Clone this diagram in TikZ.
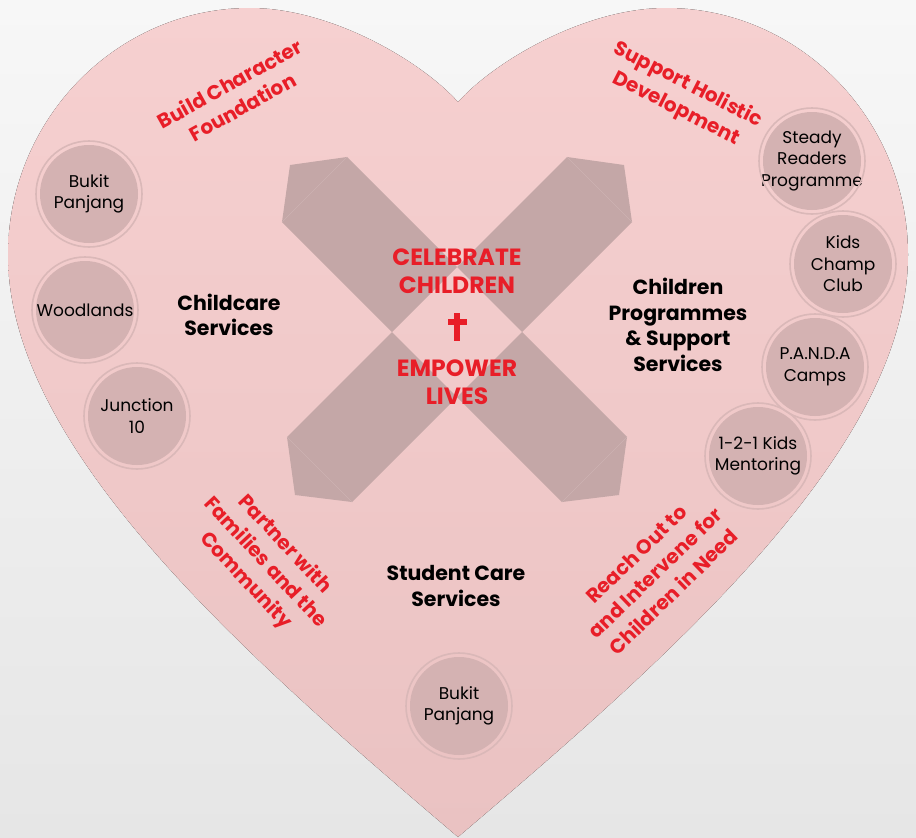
\documentclass[tikz,border=0pt]{standalone}
\usepackage{fontspec}
\setmainfont{Poppins}

\definecolor{bgtop}{HTML}{F7F7F7}
\definecolor{bgbot}{HTML}{E6E6E6}
\definecolor{hearttop}{HTML}{F6D0D0}
\definecolor{heartbot}{HTML}{EAC2C2}
\definecolor{armcol}{HTML}{C4A7A7}
\definecolor{foldcol}{HTML}{CDB2B2}
\definecolor{sitefill}{HTML}{D4B2B2}
\definecolor{ringcol}{HTML}{DAB8B8}
\definecolor{heartred}{HTML}{E81E28}

\begin{document}
\begin{tikzpicture}[x=1pt,y=-1pt]

\tikzset{site/.style = {shape=circle,fill=sitefill,minimum size=98pt,inner sep=0pt}}
\tikzset{sitetext/.style = {align=center,font=\fontsize{17}{21.5}\selectfont}}
\tikzset{ring/.style = {draw=ringcol,line width=1.6pt}}
\tikzset{service/.style = {align=center,font=\fontsize{20.5}{25.5}\selectfont\bfseries}}
\tikzset{goal/.style = {align=center,text=heartred,font=\fontsize{20}{26.5}\selectfont\bfseries}}
\tikzset{motto/.style = {align=center,text=heartred,font=\fontsize{23.5}{27.5}\selectfont\bfseries}}
\tikzset{arm/.style = {fill=armcol}}
\tikzset{fold/.style = {draw=foldcol,line width=0.6pt}}

\useasboundingbox (0,0) rectangle (916,838);
%background and heart
\fill[top color=bgtop,bottom color=bgbot] (0,0) rectangle (916,838);
\fill[top color=hearttop,bottom color=heartbot] (458,837)
  .. controls (250,660) and (8,450) .. (8,255)
  .. controls (8,119) and (117,8) .. (250,8)
  .. controls (330,8) and (420,60) .. (458,102)
  .. controls (496,60) and (586,8) .. (666,8)
  .. controls (799,8) and (908,119) .. (908,255)
  .. controls (908,450) and (666,660) .. (458,837) -- cycle;

%cross arms
\fill[arm] (282,222) -- (290,165) -- (347,157) -- (457,267) -- (392,332) -- cycle;
\fill[arm] (632,222) -- (624,165) -- (567,157) -- (457,267) -- (522,332) -- cycle;
\fill[arm] (392,332) -- (287,437) -- (295,495) -- (352,502) -- (457,397) -- cycle;
\fill[arm] (522,332) -- (627,437) -- (619,495) -- (562,502) -- (457,397) -- cycle;
\draw[fold] (347,157) -- (282,222);
\draw[fold] (567,157) -- (632,222);
\draw[fold] (287,437) -- (352,502);
\draw[fold] (627,437) -- (562,502);

%sites
\node[site, label={[sitetext]center:Bukit\\Panjang}] (bp) at (89,194) {};
\node[site, label={[sitetext]center:Woodlands}] (wl) at (85,310) {};
\node[site, label={[sitetext]center:Junction\\10}] (jn) at (137,416) {};
\node[site, label={[sitetext]center:Steady\\Readers\\Programme}] (sr) at (812,161) {};
\node[site, label={[sitetext]center:Kids\\Champ\\Club}] (kc) at (843,264) {};
\node[site, label={[sitetext]center:P.A.N.D.A\\Camps}] (pc) at (815,367) {};
\node[site, label={[sitetext]center:1-2-1 Kids\\Mentoring}] (km) at (758,456) {};
\node[site, label={[sitetext]center:Bukit\\Panjang}] (sb) at (459,706) {};
\foreach \n in {bp,wl,jn,sr,kc,pc,km,sb}
  \draw[ring] (\n.center) circle (53);

%services
\node[service] (childcare) at (229,315) {Childcare\\Services};
\node[service] (programmes) at (678,325) {Children\\Programmes\\\& Support\\Services};
\node[service] (studentcare) at (456,586) {Student Care\\Services};

%centre
\node[motto] (celebrate) at (457,271) {CELEBRATE\\CHILDREN};
\node[motto] (empower) at (457,382) {EMPOWER\\LIVES};
\fill[heartred] (454,313) rectangle (460,341);
\fill[heartred] (447.5,318.5) rectangle (466.5,324.5);

%goals
\node[goal, rotate=29] (build) at (236,95) {Build Character\\Foundation};
\node[goal, rotate=-27] (holistic) at (682,97) {Support Holistic\\Development};
\node[goal, rotate=-47] (partner) at (265,563) {Partner with\\Families and the\\Community};
\node[goal, rotate=44] (reach) at (655,573) {Reach Out to\\and Intervene for\\Children in Need};

\end{tikzpicture}
\end{document}
